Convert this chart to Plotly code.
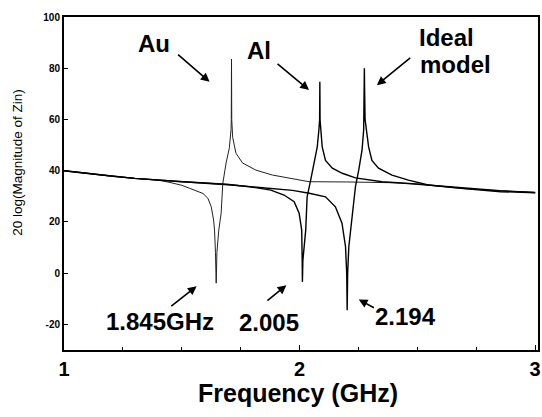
import plotly.graph_objects as go

# ---- data (frequency in GHz, 20 log|Zin| in dB) ----
freq_au = [1.0, 1.1, 1.2, 1.3, 1.4, 1.45, 1.5, 1.534, 1.59, 1.611, 1.625, 1.635, 1.639, 1.643, 1.646, 1.649,
           1.657, 1.667, 1.674, 1.688, 1.702, 1.709, 1.710, 1.711, 1.712, 1.716, 1.730, 1.758, 1.815, 1.885,
           1.956, 2.04, 2.2, 2.4, 2.5, 2.6, 2.7, 2.8, 2.9, 3.0]
mag_au = [40.0, 38.9, 37.9, 37.0, 36.3, 35.4, 34.3, 33.1, 31.1, 29.2, 25.9, 20.7, 16.8, 8.0, -3.9, 8.0,
          16.8, 23.4, 35.0, 43.0, 49.0, 56.0, 60.0, 83.6, 60.0, 53.0, 46.8, 43.0, 40.2, 38.3,
          37.0, 35.7, 35.6, 35.3, 34.8, 33.8, 33.0, 32.4, 31.9, 31.5]

freq_al = [1.0, 1.1, 1.2, 1.3, 1.4, 1.5, 1.6, 1.7, 1.793, 1.878, 1.934, 1.977, 1.998, 2.009, 2.011, 2.012,
           2.014, 2.026, 2.032, 2.047, 2.061, 2.075, 2.082, 2.085, 2.086, 2.087, 2.096, 2.110, 2.139, 2.181,
           2.237, 2.350, 2.462, 2.546, 2.65, 2.75, 2.85, 3.0]
mag_al = [40.0, 38.9, 37.9, 37.0, 36.3, 35.7, 35.2, 34.6, 33.7, 32.4, 30.5, 27.9, 23.4, 16.8, 5.0, -3.4,
          5.0, 16.8, 29.8, 36.3, 43.0, 49.3, 56.0, 59.8, 74.7, 59.8, 49.3, 44.0, 41.0, 39.0,
          37.2, 35.7, 35.0, 34.4, 33.5, 32.8, 32.2, 31.5]

freq_ideal = [1.0, 1.1, 1.2, 1.3, 1.4, 1.5, 1.6, 1.7, 1.8, 1.9, 1.97, 2.041, 2.110, 2.152, 2.180, 2.195,
              2.200, 2.202, 2.204, 2.209, 2.223, 2.237, 2.251, 2.265, 2.272, 2.274, 2.275, 2.276, 2.278,
              2.293, 2.307, 2.335, 2.392, 2.462, 2.546, 2.673, 2.854, 3.0]
mag_ideal = [40.0, 38.9, 37.9, 37.0, 36.3, 35.6, 35.1, 34.5, 33.7, 33.0, 32.3, 31.2, 29.8, 25.9, 19.5, 10.3,
             0.0, -14.5, 0.0, 10.3, 23.4, 33.7, 40.2, 48.0, 55.9, 71.5, 80.0, 71.5, 60.0,
             49.3, 44.0, 41.0, 38.3, 36.3, 34.4, 33.2, 31.8, 31.4]

x_ticks = [1, 2, 3]
y_ticks = [-20, 0, 20, 40, 60, 80, 100]

FONT = "Arial, Liberation Sans, sans-serif"

fig = go.Figure()
fig.add_trace(go.Scatter(x=freq_au, y=mag_au, mode="lines", name="Au",
                         line=dict(color="#222222", width=1.0)))
fig.add_trace(go.Scatter(x=freq_al, y=mag_al, mode="lines", name="Al",
                         line=dict(color="black", width=1.4)))
fig.add_trace(go.Scatter(x=freq_ideal, y=mag_ideal, mode="lines", name="Ideal model",
                         line=dict(color="black", width=1.4)))

ann = []
def label(text, x, y, size=24, xanchor="center"):
    ann.append(dict(x=x, y=y, xref="x", yref="y", text="<b>%s</b>" % text, showarrow=False,
                    xanchor=xanchor, yanchor="middle",
                    font=dict(family=FONT, size=size, color="black")))

def arrow(x0, y0, x1, y1):
    ann.append(dict(x=x1, y=y1, ax=x0, ay=y0, xref="x", yref="y", axref="x", ayref="y",
                    text="", showarrow=True, arrowhead=2, arrowsize=1.1, arrowwidth=1.6,
                    arrowcolor="black"))

label("Au", 1.383, 89.7)
arrow(1.478, 85.8, 1.618, 74.7)
label("Al", 1.826, 86.8)
arrow(1.900, 82.2, 2.040, 71.5)
label("Ideal", 2.497, 92.0, xanchor="left")
label("model", 2.504, 81.6, xanchor="left")
arrow(2.476, 84.5, 2.328, 73.4)
label("1.845GHz", 1.407, -19.0)
arrow(1.449, -13.3, 1.563, -5.1)
label("2.005", 1.871, -19.3)
arrow(1.857, -11.2, 1.944, -4.7)
label("2.194", 2.448, -16.8)
arrow(2.322, -13.8, 2.251, -10.3)

ann.append(dict(x=-0.0977, y=0.5616, xref="paper", yref="paper", text="20 log(Magnitude of Zin)",
                showarrow=False, textangle=-90, xanchor="center", yanchor="middle",
                font=dict(family=FONT, size=13.5, color="black")))
ann.append(dict(x=0.4937, y=-0.130, xref="paper", yref="paper", text="<b>Frequency (GHz)</b>",
                showarrow=False, xanchor="center", yanchor="middle",
                font=dict(family=FONT, size=25, color="black")))

fig.update_layout(
    width=542, height=417,
    margin=dict(l=64, r=2, t=17, b=67),
    paper_bgcolor="white", plot_bgcolor="white",
    showlegend=False,
    annotations=ann,
    xaxis=dict(range=[1, 3.012], tickvals=x_ticks, ticktext=["<b>%d</b>" % t for t in x_ticks],
               ticks="inside", ticklen=5, tickcolor="black", tickwidth=1.2,
               minor=dict(tickvals=[1.25, 1.5, 1.75, 2.25, 2.5, 2.75], ticks="inside", ticklen=3,
                          tickcolor="black"),
               showline=True, linecolor="black", linewidth=2, mirror=True,
               showgrid=False, zeroline=False,
               tickfont=dict(family=FONT, size=20, color="black")),
    yaxis=dict(range=[-30, 100], tickvals=y_ticks, ticktext=["<b>%d</b>" % t for t in y_ticks],
               ticks="inside", ticklen=4, tickcolor="black", tickwidth=1.2,
               showline=True, linecolor="black", linewidth=2, mirror=True,
               showgrid=False, zeroline=False,
               tickfont=dict(family=FONT, size=10, color="black")),
)

fig.write_html("out.html")
